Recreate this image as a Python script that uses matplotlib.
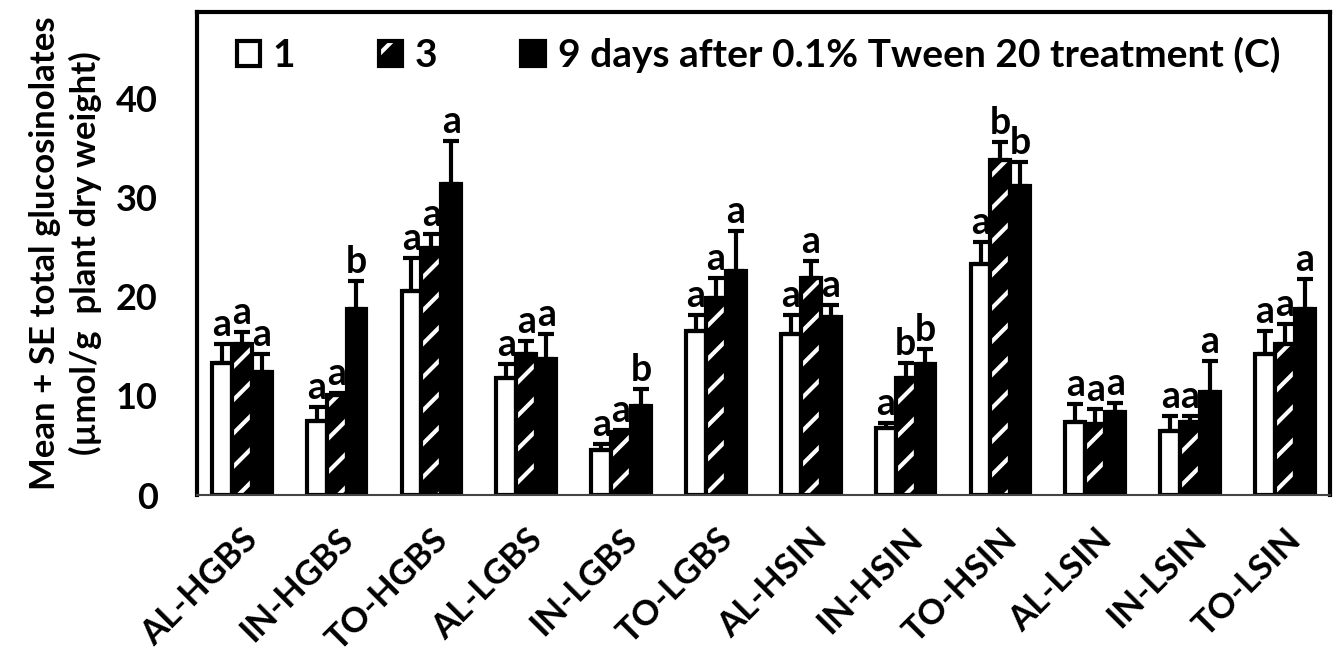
import matplotlib
matplotlib.use("Agg")
import matplotlib.pyplot as plt
from matplotlib.patches import Patch
from matplotlib.legend_handler import HandlerTuple
import numpy as np

plt.rcParams['font.family'] = ['Lato', 'DejaVu Sans']
plt.rcParams['font.weight'] = 'bold'
plt.rcParams['hatch.linewidth'] = 3

groups = ["AL-HGBS", "IN-HGBS", "TO-HGBS", "AL-LGBS", "IN-LGBS", "TO-LGBS",
          "AL-HSIN", "IN-HSIN", "TO-HSIN", "AL-LSIN", "IN-LSIN", "TO-LSIN"]

day1 = [13.3, 7.5, 20.6, 11.8, 4.6, 16.5, 16.2, 6.8, 23.3, 7.4, 6.5, 14.2]
day1_se = [1.9, 1.4, 3.3, 1.4, 0.6, 1.7, 2.0, 0.5, 2.2, 1.8, 1.5, 2.3]
day3 = [15.2, 10.1, 24.9, 14.2, 6.4, 19.9, 21.9, 11.8, 33.8, 7.2, 7.4, 15.2]
day3_se = [1.2, 0.2, 1.4, 1.3, 0.2, 2.0, 1.7, 1.5, 1.8, 1.5, 0.6, 2.1]
day9 = [12.4, 18.8, 31.4, 13.7, 9.0, 22.6, 18.0, 13.2, 31.2, 8.4, 10.4, 18.8]
day9_se = [1.8, 2.8, 4.3, 2.5, 1.7, 4.0, 1.2, 1.5, 2.4, 0.9, 3.1, 3.0]

letters1 = ["a", "a", "a", "a", "a", "a", "a", "a", "a", "a", "a", "a"]
letters3 = ["a", "a", "a", "a", "a", "a", "a", "b", "b", "a", "a", "a"]
letters9 = ["a", "b", "a", "a", "b", "a", "a", "b", "b", "a", "a", "a"]

fig = plt.figure(figsize=(13.38, 6.62), dpi=100)
ax = fig.add_axes([0.147, 0.252, 0.847, 0.730])

x = np.arange(len(groups))
w = 0.21

series = [(day1, day1_se, letters1, -w), (day3, day3_se, letters3, 0), (day9, day9_se, letters9, w)]

for i, (vals, se, lets, off) in enumerate(series):
    pos = x + off
    if i == 0:
        ax.bar(pos, vals, w, color='white', edgecolor='black', linewidth=3, zorder=2)
    elif i == 1:
        ax.bar(pos, vals, w, color='black', edgecolor='white', linewidth=0, hatch='/', zorder=2)
        ax.bar(pos, vals, w, fill=False, edgecolor='black', linewidth=3, zorder=2.5)
    else:
        ax.bar(pos, vals, w, color='black', edgecolor='black', linewidth=3, zorder=2)
    ax.errorbar(pos, vals, yerr=[np.zeros(len(se)), se], fmt='none', ecolor='black',
                elinewidth=3, capsize=6, capthick=3, zorder=3)
    for p, v, s, l in zip(pos, vals, se, lets):
        ax.text(p, v + s + 0.2, l, ha='center', va='bottom', fontsize=27, fontweight='bold')

ax.set_xlim(-0.475, len(groups) - 0.525)
ax.set_ylim(0, 48.7)
ax.set_yticks([0, 10, 20, 30, 40])
ax.tick_params(axis='y', length=0, pad=28, labelsize=26)
ax.tick_params(axis='x', length=0, pad=20, labelsize=25)
ax.set_xticks(x)
ax.set_xticklabels(groups, rotation=45, ha='right', rotation_mode='anchor', fontweight='bold')
for lab in ax.get_yticklabels():
    lab.set_fontweight('bold')

for side in ['left', 'top', 'right']:
    ax.spines[side].set_linewidth(3)
ax.spines['bottom'].set_linewidth(1.5)
ax.spines['bottom'].set_color('#444444')

ax.set_ylabel("Mean + SE total glucosinolates\n(µmol/g  plant dry weight)",
              fontsize=25, fontweight='bold', labelpad=10, linespacing=1.3)

h1 = Patch(facecolor='white', edgecolor='black', linewidth=3)
h3 = (Patch(facecolor='black', edgecolor='white', linewidth=0, hatch='/'),
      Patch(fill=False, edgecolor='black', linewidth=3))
h9 = Patch(facecolor='black', edgecolor='black', linewidth=3)
ax.legend([h1, h3, h9], ["1", "3", "9 days after 0.1% Tween 20 treatment (C)"],
          handler_map={tuple: HandlerTuple(ndivide=1, pad=0)},
          loc='upper left', bbox_to_anchor=(0.013, 1.0), ncol=3, frameon=False,
          fontsize=28, handlelength=0.6, handleheight=0.6, handletextpad=0.33,
          columnspacing=2.15, borderaxespad=0.25)

fig.savefig("out.png", dpi=100)
